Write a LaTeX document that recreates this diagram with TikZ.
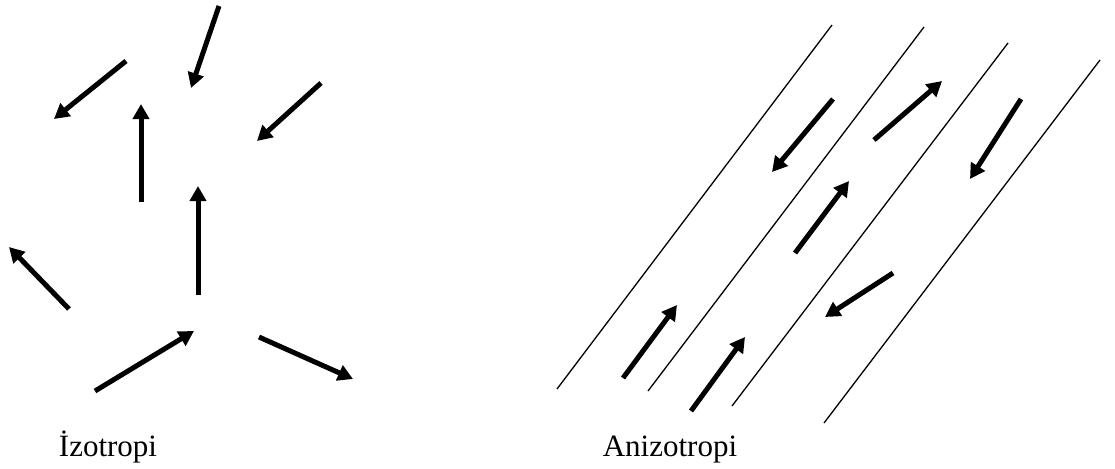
\documentclass[tikz,border=0pt]{standalone}
\usepackage{fontspec}
\setmainfont{Liberation Serif}
\usetikzlibrary{arrows.meta}

\begin{document}
\begin{tikzpicture}[x=1pt, y=-1pt,
    vec/.style={line width=5pt, -{Triangle[length=15pt,width=16pt]}},
    fibre/.style={line width=1.3pt},
    lbl/.style={anchor=base, inner sep=0pt, font=\fontsize{31}{37}\selectfont}]
    \useasboundingbox (0,0) rectangle (1115,468);

    % Isotropic: vectors in all directions
    \foreach \xa/\ya/\xb/\yb in {219/6/191/88, 126/61/54/119, 141/202/141/104,
        321/83/257/141, 198/295/198/186, 69/309/9/247, 95/391/194/331, 259/337/353/379} {
        \draw[vec] (\xa,\ya) -- (\xb,\yb);
    }

    % Anisotropic: parallel fibres
    \foreach \xa/\ya/\xb/\yb in {832/25/557/389, 924/27/648/391, 1008/43/732/406, 1100/60/824/423} {
        \draw[fibre] (\xa,\ya) -- (\xb,\yb);
    }

    % vectors along the fibres
    \foreach \xa/\ya/\xb/\yb in {833/99/772/172, 874/140/942/81, 1021/99/970/179,
        795/253/849/181, 893/273/825/317, 623/378/677/305, 691/411/745/337} {
        \draw[vec] (\xa,\ya) -- (\xb,\yb);
    }

    % Labels
    \node[lbl] (izo) at (108,456) {İzotropi};
    \node[lbl] (anizo) at (670,456) {Anizotropi};
\end{tikzpicture}
\end{document}
